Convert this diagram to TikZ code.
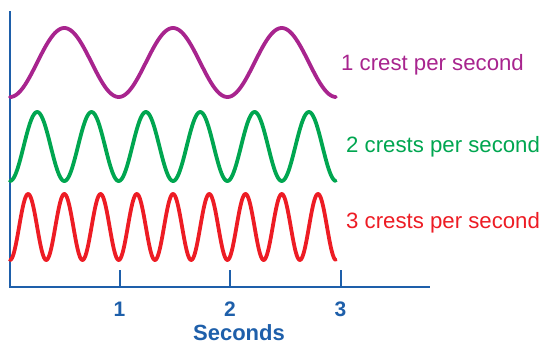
\documentclass[tikz,border=0pt]{standalone}
\usepackage{fontspec}
\setmainfont{Liberation Sans}
\definecolor{wpurple}{RGB}{168,36,142}
\definecolor{wgreen}{RGB}{0,166,80}
\definecolor{wred}{RGB}{237,28,36}
\definecolor{axblue}{RGB}{30,95,170}
\tikzset{
  wave/.style={line width=3.8pt, line join=round, line cap=round},
  axisline/.style={draw=axblue, line width=2pt},
  lbl/.style={font=\fontsize{22.2}{26}\selectfont, anchor=west, inner sep=0pt},
  ticklbl/.style={font=\fontsize{21}{24}\selectfont\bfseries, text=axblue, inner sep=0pt},
}
\begin{document}
\begin{tikzpicture}[x=1pt,y=-1pt]
\useasboundingbox (0,0) rectangle (558,362);
% axes
\coordinate (top) at (9.5,11);
\coordinate (origin) at (9.5,287);
\coordinate (xend) at (430,287);
\draw[axisline] (top) -- (origin) -- (xend);
\foreach \i/\x in {1/119.5,2/230,3/340.5}{
  \coordinate (t\i) at (\x,287);
  \coordinate (tt\i) at (\x,269.5);
  \draw[axisline] (t\i) -- (tt\i);
  \node[ticklbl] (n\i) at (\x,309) {\i};
}
\node[font=\fontsize{22}{26}\selectfont\bfseries, text=axblue, inner sep=0pt] (sec) at (239,333) {Seconds};
% waves
\draw[wave, wpurple] plot[domain=0:3, samples=240] ({10+108.7*\x},{62.5+34.5*cos(360*\x)});
\draw[wave, wgreen] plot[domain=0:3, samples=360] ({10+108.7*\x},{146.5+34.5*cos(720*\x)});
\draw[wave, wred] plot[domain=0:3, samples=480] ({10+108.7*\x},{227+33*cos(1080*\x)});
% labels
\node[lbl, text=wpurple] (l1) at (341,65) {1 crest per second};
\node[lbl, text=wgreen] (l2) at (346,147) {2 crests per second};
\node[lbl, text=wred] (l3) at (346,223) {3 crests per second};
\end{tikzpicture}
\end{document}
